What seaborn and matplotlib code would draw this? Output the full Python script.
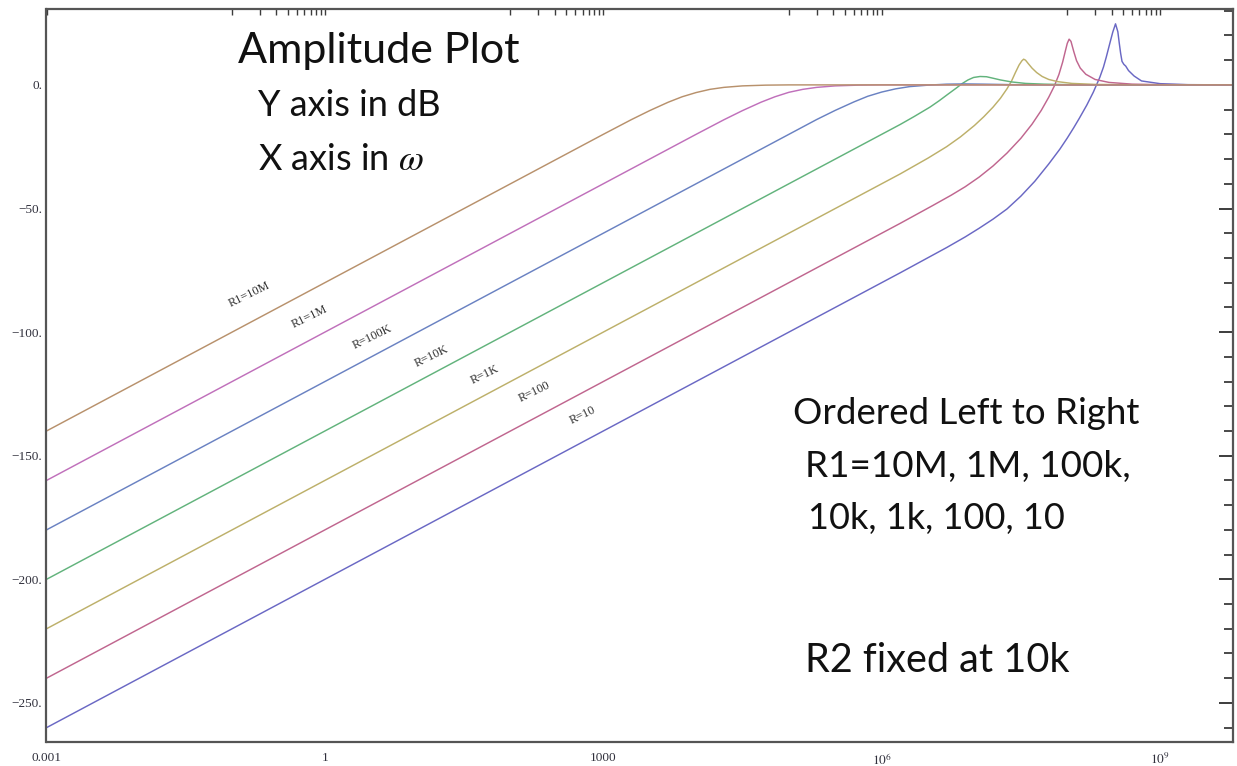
import numpy as np
import pandas as pd
import matplotlib
matplotlib.use("Agg")
import matplotlib.pyplot as plt
import seaborn as sns
from matplotlib.ticker import FixedLocator, FixedFormatter, NullFormatter

# ---- data: log10(omega) sample points and amplitude in dB, one pair per R1 value ----
series_names = ["R=10", "R=100", "R=1K", "R=10K", "R=100K", "R1=1M", "R1=10M"]

lw_r10 = [-3.0, 6.2, 6.7, 6.9, 7.05, 7.2, 7.35, 7.5, 7.65, 7.8, 7.92, 8.0, 8.07, 8.13,
          8.21, 8.28, 8.35, 8.39, 8.42, 8.46, 8.49, 8.52, 8.545, 8.56, 8.575, 8.59, 8.61,
          8.63, 8.66, 8.72, 8.8, 9.0, 9.3, 9.79]
db_r10 = [-260.0, -76.0, -65.8, -61.5, -58.0, -54.3, -50.2, -45.0, -39.0, -32.0, -26.0,
          -21.5, -17.3, -13.5, -8.2, -3.0, 3.0, 7.2, 11.2, 17.0, 21.3, 24.7, 21.5, 17.0,
          12.8, 9.5, 8.3, 7.6, 5.8, 3.6, 1.6, 0.5, 0.1, 0.0]

lw_r100 = [-3.0, 6.2, 6.55, 6.75, 6.9, 7.05, 7.2, 7.35, 7.5, 7.62, 7.72, 7.8, 7.86, 7.91,
           7.95, 7.98, 8.0, 8.02, 8.04, 8.07, 8.1, 8.14, 8.2, 8.3, 8.45, 8.7, 9.0, 9.79]
db_r100 = [-240.0, -56.0, -48.8, -44.6, -41.2, -37.3, -32.8, -27.6, -21.6, -15.9, -10.3,
           -5.0, -0.5, 4.2, 9.2, 13.8, 16.8, 18.5, 17.6, 13.5, 9.8, 6.8, 4.3, 2.2, 1.0,
           0.3, 0.1, 0.0]

lw_r1k = [-3.0, 6.2, 6.5, 6.7, 6.85, 7.0, 7.1, 7.2, 7.28, 7.35, 7.4, 7.44, 7.48, 7.51,
          7.53, 7.55, 7.58, 7.62, 7.67, 7.73, 7.8, 7.9, 8.05, 8.3, 8.7, 9.79]
db_r1k = [-220.0, -36.0, -29.6, -25.0, -21.0, -16.4, -12.9, -9.0, -5.4, -1.6, 1.6, 4.9,
          8.0, 9.7, 10.4, 10.0, 8.6, 6.8, 5.0, 3.4, 2.2, 1.3, 0.6, 0.2, 0.05, 0.0]

lw_r10k = [-3.0, 6.0, 6.2, 6.35, 6.52, 6.62, 6.72, 6.8, 6.87, 6.93, 6.99, 7.06, 7.13,
           7.2, 7.28, 7.4, 7.55, 7.75, 8.0, 8.5, 9.79]
db_r10k = [-200.0, -20.0, -16.0, -12.8, -9.0, -6.4, -3.6, -1.4, 0.6, 2.0, 3.0, 3.4, 3.3,
           2.7, 2.0, 1.2, 0.6, 0.3, 0.1, 0.0, 0.0]

lw_r100k = [-3.0, 5.0, 5.3, 5.5, 5.7, 5.85, 6.0, 6.15, 6.3, 6.5, 6.7, 6.9, 7.1, 7.4, 7.8, 9.79]
db_r100k = [-180.0, -20.0, -14.0, -10.3, -6.9, -4.6, -2.9, -1.6, -0.7, -0.1, 0.3, 0.4,
            0.3, 0.1, 0.0, 0.0]

lw_r1m = [-3.0, 4.0, 4.3, 4.5, 4.7, 4.85, 5.0, 5.15, 5.3, 5.5, 5.75, 6.0, 9.79]
db_r1m = [-160.0, -20.0, -14.1, -10.4, -7.0, -4.8, -3.0, -1.8, -1.0, -0.4, -0.1, 0.0, 0.0]

lw_r10m = [-3.0, 3.0, 3.3, 3.5, 3.7, 3.85, 4.0, 4.15, 4.3, 4.5, 4.75, 5.0, 9.79]
db_r10m = [-140.0, -20.0, -14.1, -10.4, -7.0, -4.8, -3.1, -1.8, -1.0, -0.4, -0.1, 0.0, 0.0]

series_lw = [lw_r10, lw_r100, lw_r1k, lw_r10k, lw_r100k, lw_r1m, lw_r10m]
series_db = [db_r10, db_r100, db_r1k, db_r10k, db_r100k, db_r1m, db_r10m]

# line colours, one per series (Hue-style plot palette)
series_colors = ["#6a68c4", "#c0668f", "#bdb06a", "#62b37c", "#6a82c2", "#c070bb", "#b8916c"]

# in-plot curve labels: text, log10(omega), dB
curve_label_text = ["R1=10M", "R1=1M", "R=100K", "R=10K", "R=1K", "R=100", "R=10"]
curve_label_lw = [-0.81, -0.16, 0.51, 1.15, 1.72, 2.26, 2.78]
curve_label_db = [-85.0, -93.9, -101.9, -110.0, -117.3, -124.2, -133.5]

# axis ticks
x_major = [1e-3, 1.0, 1e3, 1e6, 1e9]
x_major_labels = ["0.001", "1", "1000", r"$10^{6}$", r"$10^{9}$"]
x_minor_decades = [0.1, 100.0, 1e5, 1e8]
y_major = [0, -50, -100, -150, -200, -250]
y_major_labels = ["0.", "\u221250.", "\u2212100.", "\u2212150.", "\u2212200.", "\u2212250."]

# ---- build long-form table ----
rows = []
for name, lws, dbs in zip(series_names, series_lw, series_db):
    for a, b in zip(lws, dbs):
        rows.append({"omega": 10.0 ** a, "dB": b, "series": name})
df = pd.DataFrame(rows)

sns.set_style("white")
plt.rcParams["mathtext.fontset"] = "stix"

W, H = 1237, 766
fig = plt.figure(figsize=(W / 100, H / 100), dpi=100)
ax_l, ax_r, ax_t, ax_b = 46.5, 1233.0, 9.0, 742.0
ax = fig.add_axes([ax_l / W, 1 - ax_b / H, (ax_r - ax_l) / W, (ax_b - ax_t) / H])

sns.lineplot(data=df, x="omega", y="dB", hue="series", hue_order=series_names,
             palette=dict(zip(series_names, series_colors)), estimator=None,
             sort=False, legend=False, linewidth=1.05, ax=ax)

ax.set_xscale("log")
ax.set_xlim(1e-3, 10 ** 9.786)
ax.set_ylim(-265.8, 30.7)
ax.set_xlabel("")
ax.set_ylabel("")

# ticks
minor = [k * d for d in x_minor_decades for k in range(1, 10)]
minor = [m for m in minor if m not in x_major]
ax.xaxis.set_major_locator(FixedLocator(x_major))
ax.xaxis.set_major_formatter(FixedFormatter(x_major_labels))
ax.xaxis.set_minor_locator(FixedLocator(minor))
ax.xaxis.set_minor_formatter(NullFormatter())
ax.yaxis.set_major_locator(FixedLocator(y_major))
ax.yaxis.set_major_formatter(FixedFormatter(y_major_labels))
ax.yaxis.set_minor_locator(FixedLocator([v for v in range(-260, 31, 10) if v not in y_major]))
ax.yaxis.set_minor_formatter(NullFormatter())

ax.tick_params(which="both", direction="in", top=True, right=True,
               labeltop=False, labelright=False, color="#3c3c3c")
ax.tick_params(axis="y", which="major", length=10.0, width=1.4, pad=3)
ax.tick_params(axis="y", which="minor", length=6.5, width=1.3)
ax.tick_params(axis="x", which="both", length=4.0, width=1.0, pad=7)
for lab in ax.get_xticklabels() + ax.get_yticklabels():
    lab.set_fontfamily("Liberation Serif")
    lab.set_fontsize(9.5)
    lab.set_color("#30303c")

for sp in ax.spines.values():
    sp.set_linewidth(1.6)
    sp.set_color("#555555")

# curve labels along the sloped lines
for t, a, b in zip(curve_label_text, curve_label_lw, curve_label_db):
    ax.text(10.0 ** a, b, t, rotation=26, rotation_mode="anchor", ha="center",
            va="center", fontsize=8.8, family="Liberation Serif", color="#333333")

# annotation text blocks
def px_text(x, y, s, size, **kw):
    fig.text(x / W, 1 - y / H, s, fontsize=size, family="Lato", color="#111111",
             ha="left", va="center", **kw)

px_text(238, 51, "Amplitude Plot", 31)
px_text(258, 106, "Y axis in dB", 26)
px_text(258, 159, r"X axis in $\omega$", 26)
px_text(793, 413, "Ordered Left to Right", 26.4)
px_text(805, 466, "R1=10M, 1M, 100k,", 26.6)
px_text(808, 518, "10k, 1k, 100, 10", 26)
px_text(805, 660, "R2 fixed at 10k", 28.5)

fig.savefig("out.png", dpi=100)
